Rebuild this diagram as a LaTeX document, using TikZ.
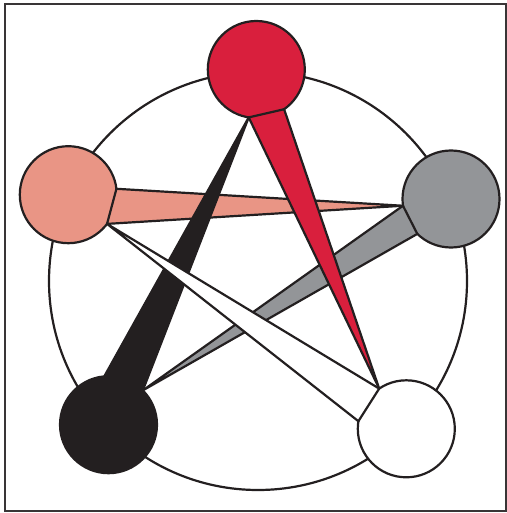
\documentclass[tikz,border=0pt]{standalone}
\usepackage{xcolor}
\usetikzlibrary{shapes,positioning,calc}

\definecolor{ink}{HTML}{231F20}
\definecolor{crimson}{HTML}{D91F3D}
\definecolor{salmon}{HTML}{E99585}
\definecolor{ash}{HTML}{939598}

\begin{document}
\begin{tikzpicture}[x=0.5pt,y=-0.5pt,
    dot/.style={circle,draw=ink,line width=1.1pt,minimum size=48.5pt,inner sep=0pt,outer sep=0pt},
    wedge/.style={draw=ink,line width=1.1pt,line join=round}]
    \useasboundingbox (0,0) rectangle (507,513);
    \draw[line width=1pt,draw=ink!90] (5,4) rectangle (506,511);

    % ring and the five discs
    \node[circle,draw=ink,line width=1.1pt,minimum size=209pt,inner sep=0pt] (ring) at (258,281) {};
    \node[dot,fill=crimson] (red) at (256.3,69.5) {};
    \node[dot,fill=salmon] (pink) at (68.3,194.7) {};
    \node[dot,fill=ash] (grey) at (451,199) {};
    \node[dot,fill=ink] (dark) at (108.5,424.7) {};
    \node[dot,fill=white] (light) at (406.3,428.8) {};

    % tapered spokes
    \draw[wedge,fill=salmon] (pink.7.5) -- (pink.-37.9) -- (grey.188.7) -- cycle;
    \draw[wedge,fill=ash] (grey.188.7) -- (grey.226.9) -- (dark.45) -- cycle;
    \draw[wedge,fill=ink] (dark.95.8) -- (dark.45) -- (red.261.7) -- cycle;
    \draw[wedge,fill=crimson] (red.261.7) -- (red.-55.8) -- (light.124.9) -- cycle;
    \draw[wedge,fill=white] (light.124.9) -- (light.171.3) -- (pink.-37.9) -- cycle;
\end{tikzpicture}
\end{document}
